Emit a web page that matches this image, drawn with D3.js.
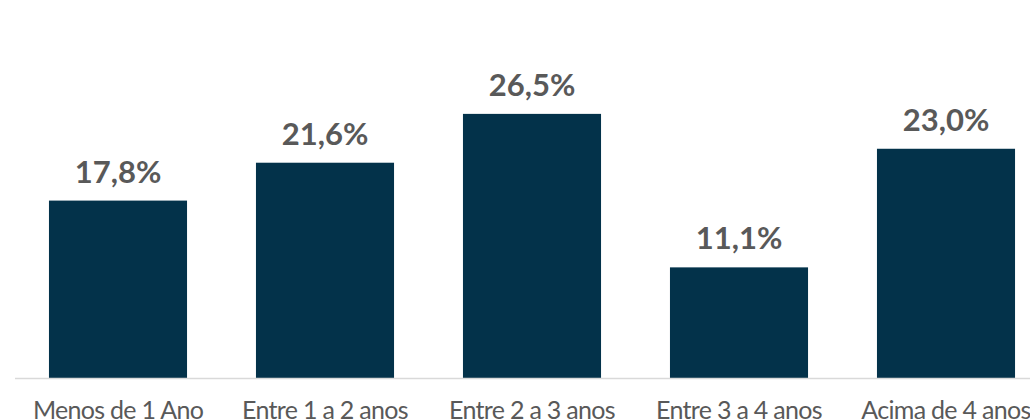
<!DOCTYPE html>
<html>
<head>
<meta charset="utf-8">
<script src="https://cdn.jsdelivr.net/npm/d3@7"></script>
<style>
  body { margin: 0; background: #fff; }
  svg { display: block; font-family: Lato, "Open Sans", sans-serif; }
</style>
</head>
<body>
<div id="chart"></div>
<script>
// Dados
const categories = ["Menos de 1 Ano", "Entre 1 a 2 anos", "Entre 2 a 3 anos", "Entre 3 a 4 anos", "Acima de 4 anos"];
const values = [17.8, 21.6, 26.5, 11.1, 23.0];

const width = 1030;
const height = 420;
const baseline = 378;

const svg = d3.select("div#chart")
  .append("svg")
  .attr("width", width)
  .attr("height", height);

// Escalas
const x = d3.scaleBand()
  .domain(categories)
  .range([14.5, 1049.5])
  .paddingInner(0.333)
  .paddingOuter(0.1665);

const y = d3.scaleLinear()
  .domain([0, 30])
  .range([baseline, 79]);

const data = categories.map((c, i) => ({ cat: c, val: values[i] }));

// Barras
svg.append("g")
  .selectAll("rect")
  .data(data)
  .join("rect")
  .attr("x", d => x(d.cat))
  .attr("y", d => y(d.val))
  .attr("width", x.bandwidth())
  .attr("height", d => baseline - y(d.val))
  .attr("fill", "#03324a");

// Eixo X
svg.append("line")
  .attr("x1", 15)
  .attr("x2", width)
  .attr("y1", baseline + 0.5)
  .attr("y2", baseline + 0.5)
  .attr("stroke", "#d9d9d9")
  .attr("stroke-width", 1.5);

svg.append("g")
  .selectAll("text")
  .data(data)
  .join("text")
  .attr("x", d => x(d.cat) + x.bandwidth() / 2)
  .attr("y", 419)
  .attr("text-anchor", "middle")
  .attr("fill", "#595959")
  .style("font-size", "25px")
  .style("letter-spacing", "-0.7px")
  .text(d => d.cat);

// Rótulos de valor
const fmt = v => v.toFixed(1).replace(".", ",") + "%";
svg.append("g")
  .selectAll("text")
  .data(data)
  .join("text")
  .attr("x", d => x(d.cat) + x.bandwidth() / 2)
  .attr("y", d => y(d.val) - 18)
  .attr("text-anchor", "middle")
  .attr("fill", "#595959")
  .style("font-size", "31px")
  .style("font-weight", "bold")
  .text(d => fmt(d.val));
</script>
</body>
</html>
